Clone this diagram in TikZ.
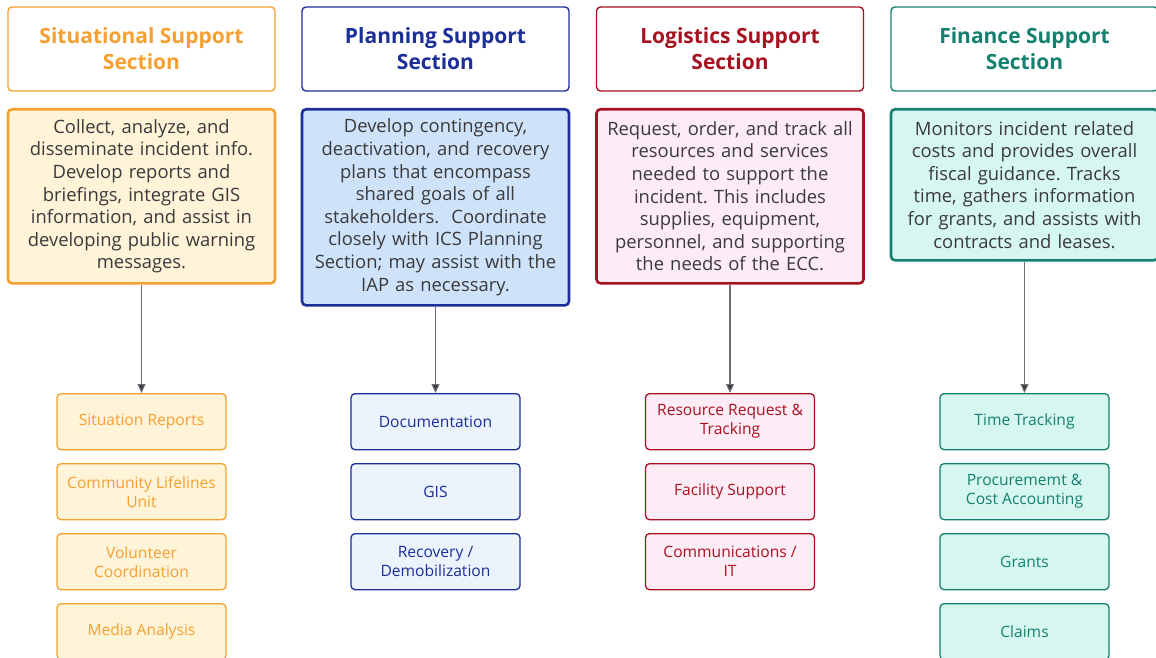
\documentclass[tikz,border=0pt]{standalone}
\usepackage{fontspec}
\setmainfont{Open Sans}
\usetikzlibrary{arrows.meta}
\definecolor{sitorange}{RGB}{247,160,50}
\definecolor{sitfill}{RGB}{255,243,216}
\definecolor{planblue}{RGB}{28,46,152}
\definecolor{planfill}{RGB}{206,227,250}
\definecolor{planunit}{RGB}{235,243,253}
\definecolor{logred}{RGB}{168,18,32}
\definecolor{logfill}{RGB}{253,236,246}
\definecolor{fingreen}{RGB}{20,128,111}
\definecolor{finfill}{RGB}{214,247,240}
\definecolor{textgray}{RGB}{58,58,60}
\definecolor{linegray}{RGB}{110,110,118}
\frenchspacing

\tikzset{
    head/.style={draw, line width=1.4pt, rounded corners=4pt, fill=white,
        minimum width=267pt, minimum height=84pt, align=center,
        font=\fontsize{21}{26}\selectfont\bfseries},
    desc/.style={draw, line width=2.6pt, rounded corners=4pt, anchor=north,
        minimum width=267pt, text width=260pt, align=center, text=textgray,
        font=\fontsize{18.4}{22.6}\selectfont},
    unit/.style={draw, line width=1.3pt, rounded corners=4pt, anchor=north,
        minimum width=169pt, minimum height=56pt, align=center,
        font=\fontsize{15.6}{19}\selectfont},
    feed/.style={draw=linegray, line width=1.1pt,
        -{Triangle[width=8pt,length=9pt,fill=textgray]}}
}

\begin{document}
\begin{tikzpicture}[x=1pt,y=-1pt]
    \useasboundingbox (0,0) rectangle (1156,658);
    \clip (0,0) rectangle (1156,658);

    % Situational support
    \node[head, draw=sitorange, text=sitorange] (sithead) at (141.5,49) {Situational Support\\Section};
    \node[desc, draw=sitorange, fill=sitfill, minimum height=174pt] (sitdesc) at (141.5,108)
        {Collect, analyze, and\\disseminate incident info.\\Develop reports and\\briefings, integrate GIS\\information, and assist in\\developing public warning\\messages.};
    \node[unit, draw=sitorange, fill=sitfill, text=sitorange] (sitrep) at (141.5,393) {Situation Reports};
    \node[unit, draw=sitorange, fill=sitfill, text=sitorange] (sitlife) at (141.5,463) {Community Lifelines\\Unit};
    \node[unit, draw=sitorange, fill=sitfill, text=sitorange] (sitvol) at (141.5,533) {Volunteer\\Coordination};
    \node[unit, draw=sitorange, fill=sitfill, text=sitorange] (sitmedia) at (141.5,603) {Media Analysis};
    \draw[feed] (sitdesc.south) -- (sitrep.north);

    % Planning support
    \node[head, draw=planblue, text=planblue] (planhead) at (435.5,49) {Planning Support\\Section};
    \node[desc, draw=planblue, fill=planfill, minimum height=196pt] (plandesc) at (435.5,108)
        {Develop contingency,\\deactivation, and recovery\\plans that encompass\\shared goals of all\\stakeholders.\ \ Coordinate\\closely with ICS Planning\\Section; may assist with the\\IAP as necessary.};
    \node[unit, draw=planblue, fill=planunit, text=planblue] (plandoc) at (435.5,393) {Documentation};
    \node[unit, draw=planblue, fill=planunit, text=planblue] (plangis) at (435.5,463) {GIS};
    \node[unit, draw=planblue, fill=planunit, text=planblue] (planrec) at (435.5,533) {Recovery /\\Demobilization};
    \draw[feed] (plandesc.south) -- (plandoc.north);

    % Logistics support
    \node[head, draw=logred, text=logred] (loghead) at (730,49) {Logistics Support\\Section};
    \node[desc, draw=logred, fill=logfill, minimum height=174pt] (logdesc) at (730,108)
        {Request, order, and track all\\resources and services\\needed to support the\\incident. This includes\\supplies, equipment,\\personnel, and supporting\\the needs of the ECC.};
    \node[unit, draw=logred, fill=logfill, text=logred] (logreq) at (730,393) {Resource Request \&\\Tracking};
    \node[unit, draw=logred, fill=logfill, text=logred] (logfac) at (730,463) {Facility Support};
    \node[unit, draw=logred, fill=logfill, text=logred] (logcom) at (730,533) {Communications /\\IT};
    \draw[feed] (logdesc.south) -- (logreq.north);

    % Finance support
    \node[head, draw=fingreen, text=fingreen] (finhead) at (1024.5,49) {Finance Support\\Section};
    \node[desc, draw=fingreen, fill=finfill, minimum height=151pt] (findesc) at (1024.5,108)
        {Monitors incident related\\costs and provides overall\\fiscal guidance. Tracks\\time, gathers information\\for grants, and assists with\\contracts and leases.};
    \node[unit, draw=fingreen, fill=finfill, text=fingreen] (fintime) at (1024.5,393) {Time Tracking};
    \node[unit, draw=fingreen, fill=finfill, text=fingreen] (finproc) at (1024.5,463) {Procurememt \&\\Cost Accounting};
    \node[unit, draw=fingreen, fill=finfill, text=fingreen] (fingrant) at (1024.5,533) {Grants};
    \node[unit, draw=fingreen, fill=finfill, text=fingreen] (finclaim) at (1024.5,603) {Claims};
    \draw[feed] (findesc.south) -- (fintime.north);
\end{tikzpicture}
\end{document}
